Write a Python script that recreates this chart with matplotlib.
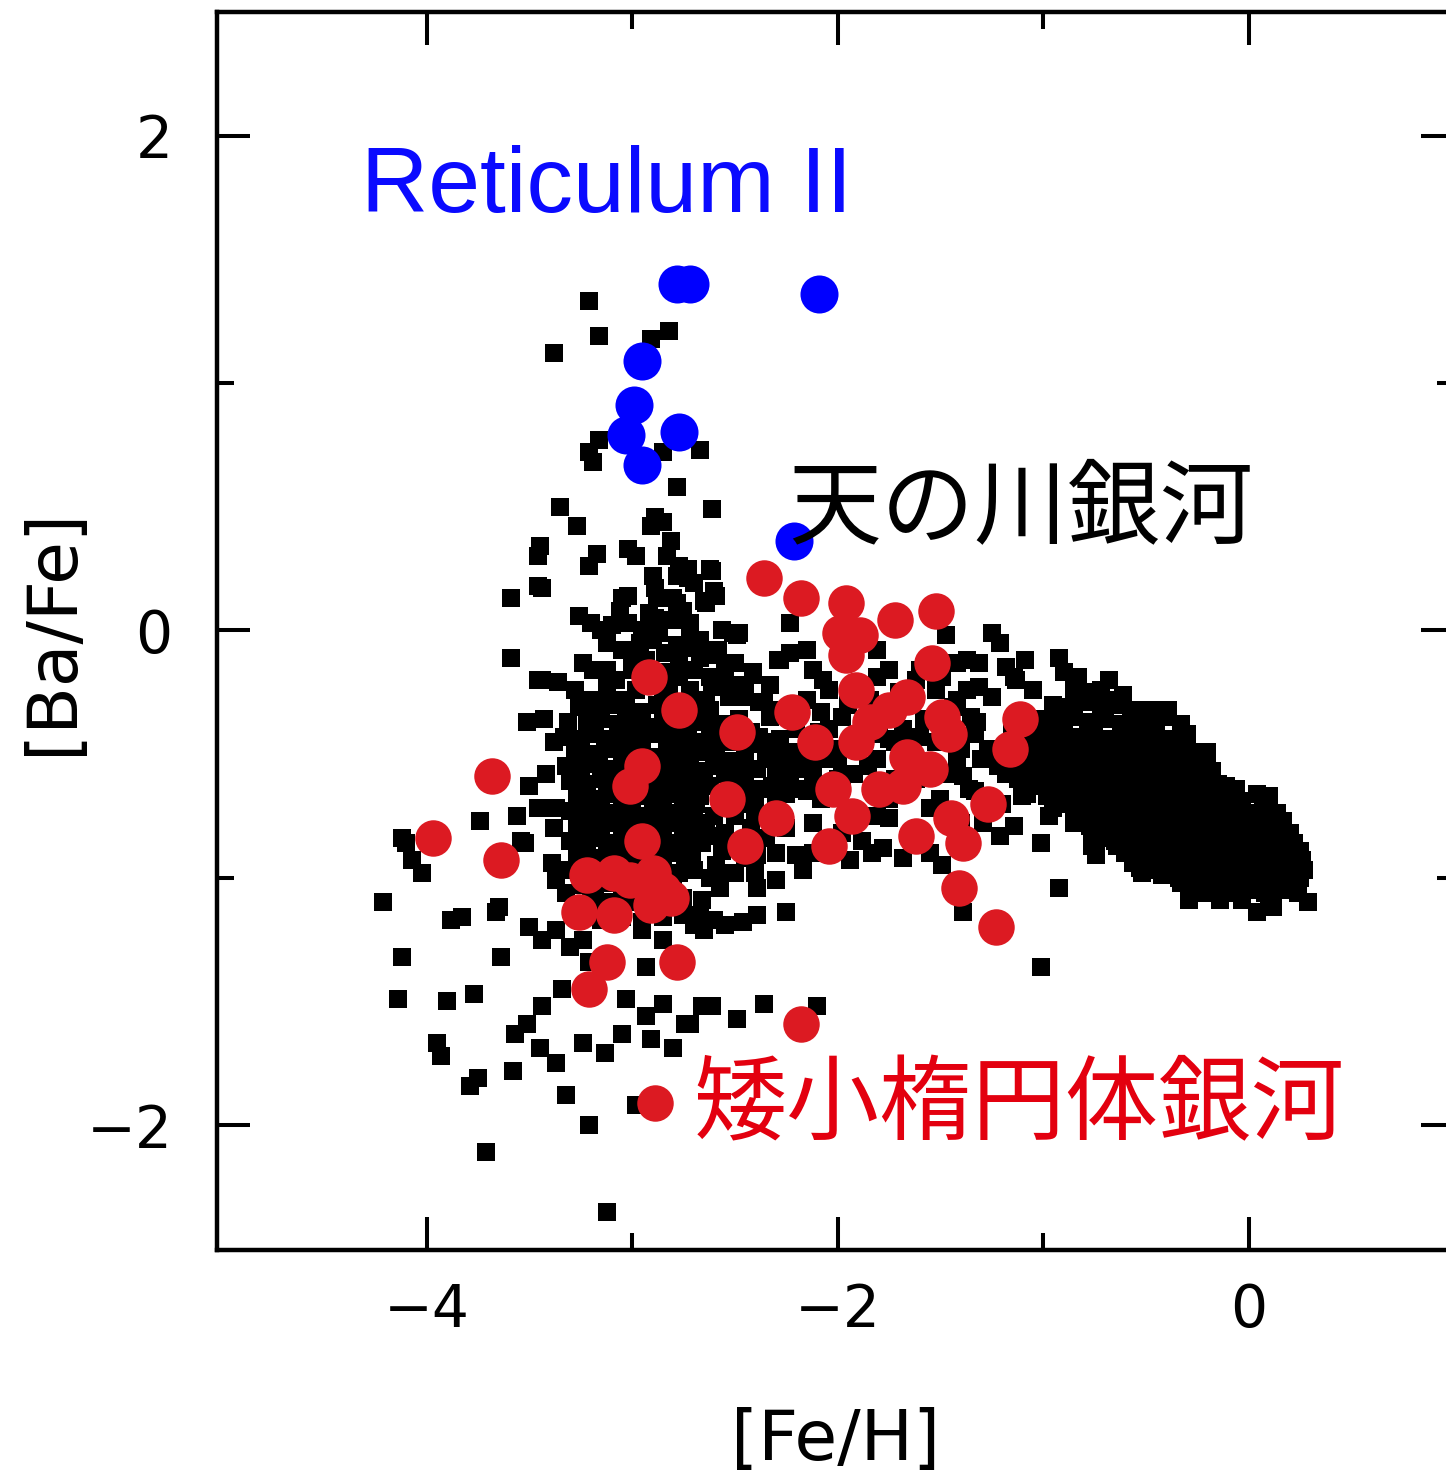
import matplotlib
matplotlib.use("Agg")
import matplotlib.pyplot as plt
from matplotlib.ticker import FixedLocator

# ---------------- data ([Fe/H], [Ba/Fe]) ----------------
# Milky Way stars (black squares)
mw_halo_top = [
    (-3.21, 1.33), (-3.16, 1.19), (-3.38, 1.12), (-2.91, 1.18), (-2.82, 1.21),
    (-3.16, 0.77), (-3.21, 0.72), (-3.19, 0.68), (-2.85, 0.72), (-2.78, 0.58), (-2.67, 0.73),
    (-2.61, 0.49), (-3.35, 0.50), (-3.27, 0.42), (-3.45, 0.34), (-3.46, 0.30), (-3.17, 0.31),
    (-3.21, 0.26), (-3.46, 0.18), (-3.59, 0.13), (-3.44, 0.17), (-2.62, 0.25), (-2.70, 0.19),
    (-2.89, 0.46), (-2.91, 0.42), (-2.85, 0.44), (-2.81, 0.36), (-3.02, 0.33), (-2.98, 0.30),
    (-2.83, 0.30), (-2.77, 0.26), (-2.73, 0.25), (-2.78, 0.22), (-2.73, 0.21), (-2.90, 0.22),
    (-2.89, 0.17), (-2.61, 0.24), (-2.60, 0.16), (-2.64, 0.11), (-3.02, 0.14), (-3.06, 0.08),
    (-3.26, 0.06), (-3.20, 0.03), (-3.10, 0.02), (-3.02, 0.03), (-2.89, 0.05), (-2.88, 0.00),
    (-2.80, 0.13), (-2.75, 0.08), (-2.72, 0.03), (-2.72, -0.02), (-2.67, -0.04), (-2.56, 0.00),
    (-2.49, -0.02), (-3.05, 0.13), (-2.88, 0.13), (-2.78, 0.11), (-2.87, -0.01),
    (-2.65, 0.12), (-2.59, 0.14), (-2.23, 0.03), (-2.51, -0.01), (-2.48, -0.01),
]

mw_halo_upper = [
    (-3.12, -0.05), (-3.05, -0.08), (-2.96, -0.05), (-2.90, -0.04), (-2.78, -0.06),
    (-2.77, -0.12), (-2.67, -0.11), (-3.24, -0.13), (-3.19, -0.16), (-3.12, -0.16),
    (-3.36, -0.21), (-3.44, -0.20), (-3.12, -0.23), (-2.77, -0.19), (-2.62, -0.19),
    (-2.61, -0.23), (-2.50, -0.13), (-2.41, -0.18), (-2.29, -0.12), (-3.20, -0.28),
    (-3.04, -0.29), (-2.64, -0.28), (-2.53, -0.27), (-2.38, -0.29), (-3.59, -0.11),
    (-3.46, -0.20), (-3.05, -0.28), (-2.98, -0.24), (-2.85, -0.27),
    (-3.08, -0.20), (-3.00, -0.16), (-2.93, -0.12), (-2.95, -0.20), (-2.86, -0.17),
    (-2.82, -0.24), (-2.70, -0.16), (-2.72, -0.25), (-2.56, -0.22), (-2.58, -0.08),
    (-2.92, 0.07), (-2.80, 0.04), (-2.95, 0.00), (-3.15, 0.00), (-3.00, -0.10),
    (-2.84, -0.09), (-2.70, -0.07), (-3.28, -0.24), (-2.45, -0.24), (-2.33, -0.22),
]

mw_halo_core = [
    (-3.26, -0.31), (-3.18, -0.32), (-3.11, -0.30), (-3.03, -0.31), (-2.95, -0.33), (-2.88, -0.30), (-2.80, -0.32), (-2.73, -0.31), (-2.66, -0.33),
    (-3.31, -0.37), (-3.22, -0.38), (-3.15, -0.36), (-3.07, -0.38), (-3.00, -0.37), (-2.92, -0.39), (-2.85, -0.36), (-2.77, -0.38), (-2.70, -0.37), (-2.62, -0.39),
    (-3.33, -0.43), (-3.25, -0.44), (-3.18, -0.42), (-3.10, -0.44), (-3.03, -0.43), (-2.95, -0.45), (-2.88, -0.42), (-2.80, -0.44), (-2.73, -0.43), (-2.65, -0.45),
    (-3.28, -0.49), (-3.20, -0.50), (-3.13, -0.48), (-3.05, -0.50), (-2.98, -0.49), (-2.90, -0.51), (-2.83, -0.48), (-2.75, -0.50), (-2.68, -0.49),
    (-3.32, -0.55), (-3.25, -0.56), (-3.17, -0.54), (-3.10, -0.56), (-3.02, -0.55), (-2.95, -0.57), (-2.87, -0.54), (-2.80, -0.56), (-2.72, -0.55), (-2.65, -0.57),
    (-3.30, -0.61), (-3.22, -0.62), (-3.15, -0.60), (-3.07, -0.62), (-3.00, -0.61), (-2.92, -0.63), (-2.85, -0.60), (-2.77, -0.62), (-2.70, -0.61),
    (-3.27, -0.67), (-3.20, -0.68), (-3.12, -0.66), (-3.05, -0.68), (-2.97, -0.67), (-2.90, -0.69), (-2.82, -0.66), (-2.75, -0.68), (-2.67, -0.67),
    (-3.30, -0.73), (-3.23, -0.74), (-3.15, -0.72), (-3.08, -0.74), (-3.00, -0.73), (-2.93, -0.75), (-2.85, -0.72), (-2.78, -0.74), (-2.70, -0.73),
    (-3.27, -0.79), (-3.20, -0.80), (-3.12, -0.78), (-3.05, -0.80), (-2.97, -0.79), (-2.90, -0.81), (-2.82, -0.78), (-2.75, -0.80), (-2.68, -0.79),
    (-3.30, -0.85), (-3.22, -0.86), (-3.15, -0.84), (-3.07, -0.86), (-3.00, -0.85), (-2.92, -0.87), (-2.85, -0.84), (-2.77, -0.86), (-2.70, -0.85),
    (-3.27, -0.91), (-3.19, -0.92), (-3.12, -0.90), (-3.04, -0.92), (-2.97, -0.91), (-2.89, -0.93), (-2.82, -0.90), (-2.74, -0.92),
    (-3.30, -0.97), (-3.22, -0.98), (-3.15, -0.96), (-3.07, -0.98), (-3.00, -0.97), (-2.92, -0.99), (-2.85, -0.96), (-2.77, -0.98), (-2.70, -0.97),
    (-3.25, -1.03), (-3.18, -1.04), (-3.10, -1.02), (-3.03, -1.04), (-2.95, -1.03), (-2.88, -1.05), (-2.80, -1.02),
    (-3.20, -1.09), (-3.12, -1.10), (-3.05, -1.08), (-2.97, -1.10), (-2.90, -1.09), (-2.82, -1.11), (-2.75, -1.08),
    (-3.22, -1.15), (-3.15, -1.17), (-3.05, -1.16), (-2.95, -1.18), (-2.85, -1.16), (-2.75, -1.15),
    (-3.51, -0.37), (-3.43, -0.36), (-3.38, -0.45), (-3.50, -0.63), (-3.46, -0.72), (-3.37, -0.72),
    (-3.74, -0.77), (-3.56, -0.75), (-3.54, -0.85), (-4.10, -0.86), (-4.07, -0.93), (-4.02, -0.98),
    (-4.21, -1.10), (-3.65, -1.12), (-3.39, -0.94), (-3.37, -1.01), (-3.52, -0.86), (-3.32, -1.06),
    (-3.17, -1.12), (-4.12, -0.84), (-3.42, -0.58), (-3.38, -0.80),
]

mw_halo_core_b = [
    (-3.19, -0.41), (-3.04, -0.41), (-2.96, -0.40), (-2.81, -0.40), (-2.74, -0.41),
    (-3.24, -0.53), (-3.16, -0.52), (-3.01, -0.52), (-2.94, -0.53), (-2.79, -0.53),
    (-3.11, -0.64), (-3.04, -0.65), (-2.89, -0.65), (-2.81, -0.64),
    (-3.19, -0.77), (-3.11, -0.76), (-2.96, -0.76), (-2.89, -0.77), (-2.74, -0.77),
    (-3.26, -0.88), (-3.11, -0.88), (-3.04, -0.89), (-2.89, -0.89), (-2.81, -0.88),
    (-3.19, -1.01), (-3.04, -1.01), (-2.96, -1.00), (-2.81, -1.00),
]

mw_middle = [
    (-2.65, 0.12), (-2.59, 0.14), (-2.23, 0.03), (-2.51, -0.01), (-2.48, -0.01),
    (-2.51, -0.13), (-2.41, -0.17), (-2.28, -0.12), (-2.23, -0.09), (-2.15, -0.08),
    (-2.12, -0.16), (-2.07, -0.20), (-2.04, -0.24), (-1.81, -0.08), (-1.47, -0.02),
    (-1.42, -0.13), (-1.37, -0.12), (-1.31, -0.13), (-1.25, -0.01), (-1.21, -0.05),
    (-1.31, -0.23), (-1.25, -0.27), (-1.37, -0.24), (-1.44, -0.31), (-2.36, -0.29),
    (-2.33, -0.35), (-2.38, -0.43), (-2.59, -0.47), (-2.66, -0.48), (-2.69, -0.37),
    (-2.72, -0.24), (-2.30, -0.47), (-2.27, -0.53), (-2.20, -0.49), (-2.15, -0.53),
    (-2.23, -0.59), (-2.12, -0.59), (-2.07, -0.52), (-2.00, -0.52), (-1.81, -0.52),
    (-1.98, -0.59), (-2.18, -0.64), (-2.32, -0.63), (-2.39, -0.56), (-2.48, -0.57),
    (-2.38, -0.64), (-2.44, -0.70), (-2.69, -0.70), (-2.64, -0.78), (-2.66, -0.86),
    (-2.71, -0.91), (-2.56, -0.89), (-2.59, -0.95), (-2.39, -0.91), (-2.30, -1.01),
    (-2.39, -1.04), (-2.57, -1.04), (-2.66, -1.09), (-2.20, -0.91), (-2.17, -0.97),
    (-2.12, -0.90), (-1.94, -0.93), (-1.83, -0.90), (-1.81, -0.75), (-1.75, -0.76),
    (-1.45, -0.76), (-1.29, -0.78), (-1.21, -0.83), (-1.49, -0.95), (-1.42, -0.53),
    (-1.39, -0.59), (-1.36, -0.64), (-1.27, -0.48), (-1.32, -0.37), (-1.75, -0.44),
    (-1.65, -0.45), (-1.60, -0.43), (-1.52, -0.24), (-1.49, -0.19), (-1.60, -0.16),
    (-1.75, -0.16), (-1.81, -0.19), (-1.84, -0.28), (-1.98, -0.35), (-2.04, -0.40),
    (-2.00, -0.48), (-2.09, -0.41),
    (-2.68, -0.05), (-2.62, -0.10), (-2.55, -0.15), (-2.50, -0.22), (-2.45, -0.27),
    (-2.62, -0.32), (-2.55, -0.38), (-2.48, -0.36), (-2.42, -0.41), (-2.52, -0.45),
    (-2.45, -0.50), (-2.58, -0.55), (-2.52, -0.62), (-2.62, -0.63), (-2.57, -0.70),
    (-2.50, -0.75), (-2.42, -0.80), (-2.55, -0.82), (-2.48, -0.87), (-2.62, -1.00),
    (-2.50, -0.98),
    (-2.58, -0.45), (-2.50, -0.43), (-2.43, -0.46), (-2.35, -0.45), (-2.28, -0.44),
    (-2.60, -0.52), (-2.53, -0.53), (-2.35, -0.52), (-2.25, -0.51), (-2.55, -0.58),
    (-2.45, -0.60), (-2.30, -0.58), (-2.20, -0.56), (-2.48, -0.66), (-2.40, -0.67),
    (-2.25, -0.66), (-2.60, -0.75), (-2.40, -0.74), (-2.30, -0.76), (-2.62, -0.83),
    (-2.35, -0.84), (-2.45, -0.92), (-2.30, -0.90), (-2.55, -0.98), (-2.40, -0.98),
    (-2.15, -0.28), (-2.08, -0.33), (-1.95, -0.30), (-1.88, -0.45), (-1.80, -0.42),
    (-1.72, -0.45), (-1.68, -0.40), (-1.58, -0.36), (-1.52, -0.45), (-1.40, -0.48),
    (-1.33, -0.42), (-1.30, -0.52), (-1.22, -0.55), (-1.45, -0.58), (-1.50, -0.68),
    (-1.40, -0.78), (-1.33, -0.65), (-1.55, -0.72), (-1.62, -0.60), (-1.72, -0.60),
    (-1.75, -0.68), (-1.85, -0.55), (-1.92, -0.58), (-2.00, -0.60), (-2.08, -0.68),
    (-2.12, -0.78), (-1.98, -0.82), (-1.88, -0.85), (-1.78, -0.88), (-1.68, -0.92),
    (-1.55, -0.90), (-2.25, -0.80), (-2.30, -0.70), (-2.15, -0.65), (-2.20, -0.40),
    (-2.28, -0.32), (-1.62, -0.20), (-1.70, -0.25), (-1.42, -0.28), (-1.35, -0.35),
    (-1.15, -0.42), (-1.12, -0.50), (-1.18, -0.58), (-1.20, -0.70), (-1.18, -0.15),
    (-1.13, -0.20),
]

mw_disk = [
    (-1.09, -0.12), (-0.92, -0.11), (-0.90, -0.17), (-0.83, -0.19), (-0.85, -0.24),
    (-1.14, -0.19), (-1.05, -0.24), (-0.68, -0.20), (-0.68, -0.28), (-0.61, -0.26),
    (-0.54, -0.32), (-0.39, -0.32), (-0.78, -0.25), (-0.72, -0.24), (-0.47, -0.32),
    (-0.33, -0.38), (-0.20, -0.49), (-0.06, -0.64), (-0.93, -0.35),
    (-0.95, -0.30), (-0.87, -0.31), (-0.80, -0.29), (-0.72, -0.31), (-0.64, -0.30), (-0.57, -0.32),
    (-1.00, -0.36), (-0.93, -0.37), (-0.85, -0.35), (-0.78, -0.37), (-0.70, -0.36), (-0.62, -0.38), (-0.55, -0.36), (-0.47, -0.37), (-0.40, -0.35),
    (-1.05, -0.42), (-0.97, -0.43), (-0.90, -0.41), (-0.82, -0.43), (-0.75, -0.42), (-0.67, -0.44), (-0.60, -0.41), (-0.52, -0.43), (-0.45, -0.42), (-0.37, -0.44), (-0.30, -0.42),
    (-1.08, -0.48), (-1.00, -0.49), (-0.93, -0.47), (-0.85, -0.49), (-0.77, -0.48), (-0.70, -0.50), (-0.62, -0.47), (-0.55, -0.49), (-0.47, -0.48), (-0.40, -0.50), (-0.32, -0.47), (-0.25, -0.49),
    (-1.10, -0.54), (-1.02, -0.55), (-0.95, -0.53), (-0.87, -0.55), (-0.80, -0.54), (-0.72, -0.56), (-0.65, -0.53), (-0.57, -0.55), (-0.50, -0.54), (-0.42, -0.56), (-0.35, -0.53), (-0.27, -0.55), (-0.20, -0.54),
    (-1.12, -0.60), (-1.05, -0.61), (-0.97, -0.59), (-0.90, -0.61), (-0.82, -0.60), (-0.75, -0.62), (-0.67, -0.59), (-0.60, -0.61), (-0.52, -0.60), (-0.45, -0.62), (-0.37, -0.59), (-0.30, -0.61), (-0.22, -0.60), (-0.15, -0.62),
    (-1.08, -0.66), (-0.98, -0.67), (-0.90, -0.65), (-0.83, -0.67), (-0.75, -0.66), (-0.68, -0.68), (-0.60, -0.65), (-0.53, -0.67), (-0.45, -0.66), (-0.38, -0.68), (-0.30, -0.65), (-0.23, -0.67), (-0.15, -0.66), (-0.08, -0.68), (0.04, -0.66), (0.10, -0.67),
    (-0.95, -0.72), (-0.85, -0.73), (-0.78, -0.71), (-0.70, -0.73), (-0.63, -0.72), (-0.55, -0.74), (-0.48, -0.71), (-0.40, -0.73), (-0.33, -0.72), (-0.25, -0.74), (-0.18, -0.71), (-0.10, -0.73), (-0.03, -0.72), (0.05, -0.74), (0.14, -0.74),
    (-0.85, -0.78), (-0.77, -0.79), (-0.70, -0.77), (-0.62, -0.79), (-0.55, -0.78), (-0.47, -0.80), (-0.40, -0.77), (-0.32, -0.79), (-0.25, -0.78), (-0.17, -0.80), (-0.10, -0.77), (-0.02, -0.79), (0.05, -0.78), (0.13, -0.80), (0.20, -0.82),
    (-0.72, -0.84), (-0.65, -0.85), (-0.57, -0.83), (-0.50, -0.85), (-0.42, -0.84), (-0.35, -0.86), (-0.27, -0.83), (-0.20, -0.85), (-0.12, -0.84), (-0.05, -0.86), (0.03, -0.83), (0.10, -0.85), (0.17, -0.84), (0.22, -0.86),
    (-0.60, -0.90), (-0.52, -0.91), (-0.45, -0.89), (-0.37, -0.91), (-0.30, -0.90), (-0.22, -0.92), (-0.15, -0.89), (-0.07, -0.91), (0.00, -0.90), (0.08, -0.92), (0.15, -0.89), (0.23, -0.91),
    (-0.53, -0.96), (-0.45, -0.97), (-0.38, -0.95), (-0.30, -0.97), (-0.23, -0.96), (-0.15, -0.98), (-0.08, -0.95), (0.00, -0.97), (0.07, -0.96), (0.15, -0.98), (0.22, -0.95), (0.27, -0.97),
    (-0.33, -1.02), (-0.25, -1.03), (-0.18, -1.01), (-0.10, -1.03), (-0.03, -1.02), (0.05, -1.04), (0.12, -1.01), (0.20, -1.03),
    (-0.29, -1.09), (-0.14, -1.09), (-0.03, -1.09), (0.10, -1.10), (0.29, -1.10), (0.04, -1.14), (0.12, -1.12), (-0.22, -1.06),
    (-0.52, -0.98), (-0.56, -0.94), (-0.74, -0.91), (-0.76, -0.87), (-0.92, -1.04), (-1.01, -0.86),
    (-1.14, -0.79), (-0.97, -0.75), (-1.10, -0.67), (-1.11, -0.60), (-1.01, -1.36),
]

mw_disk_b = [
    (-1.01, -0.45), (-0.94, -0.45), (-0.86, -0.46), (-0.79, -0.45), (-0.71, -0.46), (-0.64, -0.45), (-0.56, -0.46), (-0.49, -0.45), (-0.41, -0.46), (-0.34, -0.45),
    (-1.04, -0.51), (-0.97, -0.52), (-0.89, -0.51), (-0.81, -0.52), (-0.74, -0.51), (-0.66, -0.52), (-0.59, -0.51), (-0.51, -0.52), (-0.44, -0.51), (-0.36, -0.52), (-0.29, -0.51), (-0.22, -0.52),
    (-1.06, -0.57), (-0.99, -0.58), (-0.91, -0.57), (-0.84, -0.58), (-0.76, -0.57), (-0.69, -0.58), (-0.61, -0.57), (-0.54, -0.58), (-0.46, -0.57), (-0.39, -0.58), (-0.31, -0.57), (-0.24, -0.58), (-0.18, -0.57),
    (-1.01, -0.63), (-0.94, -0.64), (-0.86, -0.63), (-0.79, -0.64), (-0.71, -0.63), (-0.64, -0.64), (-0.56, -0.63), (-0.49, -0.64), (-0.41, -0.63), (-0.34, -0.64), (-0.26, -0.63), (-0.19, -0.64), (-0.11, -0.63),
    (-0.94, -0.69), (-0.87, -0.70), (-0.79, -0.69), (-0.72, -0.70), (-0.64, -0.69), (-0.57, -0.70), (-0.49, -0.69), (-0.42, -0.70), (-0.34, -0.69), (-0.27, -0.70), (-0.19, -0.69), (-0.12, -0.70), (-0.04, -0.69), (0.07, -0.70),
    (-0.81, -0.75), (-0.74, -0.76), (-0.66, -0.75), (-0.59, -0.76), (-0.51, -0.75), (-0.44, -0.76), (-0.36, -0.75), (-0.29, -0.76), (-0.21, -0.75), (-0.14, -0.76), (-0.06, -0.75), (0.01, -0.76), (0.09, -0.75), (0.17, -0.77),
    (-0.76, -0.81), (-0.69, -0.82), (-0.61, -0.81), (-0.54, -0.82), (-0.46, -0.81), (-0.39, -0.82), (-0.31, -0.81), (-0.24, -0.82), (-0.16, -0.81), (-0.09, -0.82), (-0.01, -0.81), (0.07, -0.82), (0.15, -0.81),
    (-0.64, -0.87), (-0.56, -0.88), (-0.49, -0.87), (-0.41, -0.88), (-0.34, -0.87), (-0.26, -0.88), (-0.19, -0.87), (-0.11, -0.88), (-0.04, -0.87), (0.04, -0.88), (0.11, -0.87), (0.19, -0.88), (0.25, -0.89),
    (-0.49, -0.93), (-0.41, -0.94), (-0.34, -0.93), (-0.26, -0.94), (-0.19, -0.93), (-0.11, -0.94), (-0.04, -0.93), (0.04, -0.94), (0.11, -0.93), (0.19, -0.94), (0.26, -0.93),
    (-0.42, -0.99), (-0.34, -1.00), (-0.27, -0.99), (-0.19, -1.00), (-0.12, -0.99), (-0.04, -1.00), (0.03, -0.99), (0.11, -1.00), (0.18, -0.99), (0.25, -1.00),
    (-0.14, -1.05), (-0.07, -1.06), (0.01, -1.05), (0.08, -1.06), (0.16, -1.05), (0.24, -1.06),
]

mw_low = [
    (-3.88, -1.17), (-3.83, -1.16), (-3.66, -1.14), (-4.12, -1.32), (-3.64, -1.32),
    (-4.14, -1.49), (-3.90, -1.50), (-3.77, -1.47), (-3.50, -1.20), (-3.44, -1.25),
    (-3.37, -1.21), (-3.30, -1.28), (-3.24, -1.25), (-3.21, -1.34), (-3.34, -1.45),
    (-3.44, -1.52), (-3.51, -1.59), (-3.57, -1.63), (-3.95, -1.67), (-3.93, -1.72),
    (-3.45, -1.69), (-3.37, -1.75), (-3.58, -1.78), (-3.75, -1.81), (-3.79, -1.84),
    (-3.32, -1.88), (-3.24, -1.67), (-3.13, -1.71), (-3.05, -1.63), (-3.03, -1.49),
    (-2.93, -1.56), (-2.91, -1.65), (-2.85, -1.51), (-2.80, -1.69), (-2.74, -1.59),
    (-2.93, -1.36), (-2.85, -1.25), (-2.95, -1.21), (-3.21, -2.00), (-3.71, -2.11),
    (-3.12, -2.35), (-2.98, -1.92), (-2.46, -1.18), (-2.39, -1.15), (-2.25, -1.14),
    (-1.39, -1.14), (-2.66, -1.52), (-2.61, -1.52), (-2.49, -1.57), (-2.36, -1.51),
    (-2.10, -1.52), (-2.72, -1.59), (-2.67, -1.15), (-2.60, -1.17), (-2.70, -1.19),
    (-2.65, -1.21), (-2.55, -1.19),
]

# dwarf spheroidal galaxies (red circles)
dsph = [
    (-2.36, 0.21), (-2.18, 0.13), (-1.96, 0.11), (-1.72, 0.04), (-1.52, 0.08),
    (-1.99, -0.01), (-1.89, -0.02), (-1.96, -0.10), (-1.54, -0.13), (-2.92, -0.19),
    (-2.77, -0.32), (-1.91, -0.24), (-1.66, -0.27), (-2.49, -0.41), (-2.22, -0.33),
    (-2.11, -0.45), (-1.91, -0.45), (-1.84, -0.37), (-1.75, -0.32), (-1.49, -0.35),
    (-1.46, -0.42), (-1.11, -0.36), (-1.16, -0.48), (-2.95, -0.55), (-3.01, -0.63),
    (-3.68, -0.59), (-2.54, -0.68), (-2.02, -0.64), (-1.93, -0.75), (-1.80, -0.64),
    (-1.68, -0.63), (-1.66, -0.51), (-1.55, -0.56), (-1.62, -0.83), (-1.45, -0.76),
    (-1.39, -0.86), (-1.27, -0.70), (-2.30, -0.76), (-2.45, -0.87), (-2.04, -0.87),
    (-1.41, -1.04), (-3.97, -0.84), (-3.64, -0.93), (-2.95, -0.85), (-3.22, -0.99),
    (-3.09, -0.98), (-2.90, -0.98), (-2.85, -1.05), (-3.01, -1.01), (-3.26, -1.14),
    (-3.09, -1.15), (-2.91, -1.11), (-2.81, -1.08), (-3.12, -1.34), (-2.78, -1.34),
    (-3.21, -1.45), (-2.18, -1.59), (-2.89, -1.91), (-1.23, -1.20),
]

# Reticulum II (blue circles)
ret2 = [
    (-2.78, 1.40), (-2.72, 1.40), (-2.09, 1.36), (-2.95, 1.09), (-2.99, 0.91),
    (-3.03, 0.79), (-2.77, 0.80), (-2.95, 0.67), (-2.21, 0.36),
]

x_ticks_major = [-4, -2, 0]
x_ticks_minor = [-3, -1]
y_ticks_major = [-2, 0, 2]
y_ticks_minor = [-1, 1]

# ---------------- figure ----------------
W, H = 1446, 1478
fig = plt.figure(figsize=(W / 100, H / 100), dpi=100)
ax = fig.add_axes([217 / W, 228 / H, 1237 / W, 1238 / H])

mw_all = (mw_halo_top + mw_halo_upper + mw_halo_core + mw_halo_core_b
          + mw_middle + mw_disk + mw_disk_b + mw_low)
mx, my = zip(*mw_all)
ax.scatter(mx, my, marker='s', s=150, color='black', linewidths=0, zorder=2)

dx, dy = zip(*dsph)
ax.scatter(dx, dy, marker='o', s=690, color='#dc1a22', linewidths=0, zorder=3)

bx, by = zip(*ret2)
ax.scatter(bx, by, marker='o', s=750, color='#0000ff', linewidths=0, zorder=4)

ax.set_xlim(-5.02, 1.0)
ax.set_ylim(-2.505, 2.5)
ax.set_xticks(x_ticks_major)
ax.set_yticks(y_ticks_major)
ax.xaxis.set_minor_locator(FixedLocator(x_ticks_minor))
ax.yaxis.set_minor_locator(FixedLocator(y_ticks_minor))

for sp in ax.spines.values():
    sp.set_linewidth(3.2)

ax.tick_params(which='both', direction='in', top=True, right=True, width=2.9)
ax.tick_params(which='major', length=24)
ax.tick_params(which='minor', length=12)
ax.tick_params(axis='x', which='major', labelsize=42, pad=23)
ax.tick_params(axis='y', which='major', labelsize=42, pad=32)

ax.set_xlabel('[Fe/H]', fontsize=50)
ax.set_ylabel('[Ba/Fe]', fontsize=50)
ax.xaxis.set_label_coords(0.5, -0.127)
ax.yaxis.set_label_coords(-0.106, 0.5)

ax.text(-4.32, 1.69, 'Reticulum II', color='#0a0aff', fontsize=67,
        family=['Liberation Sans', 'DejaVu Sans'], ha='left', va='baseline', zorder=5)
ax.text(-2.24, 0.49, '天の川銀河', color='black', fontsize=67,
        family=['Noto Sans CJK JP', 'DejaVu Sans'], ha='left', va='center', zorder=5)
ax.text(-2.70, -1.925, '矮小楕円体銀河', color='#e3000f', fontsize=67,
        family=['Noto Sans CJK JP', 'DejaVu Sans'], ha='left', va='center', zorder=5)

fig.savefig('out.png', dpi=100)
